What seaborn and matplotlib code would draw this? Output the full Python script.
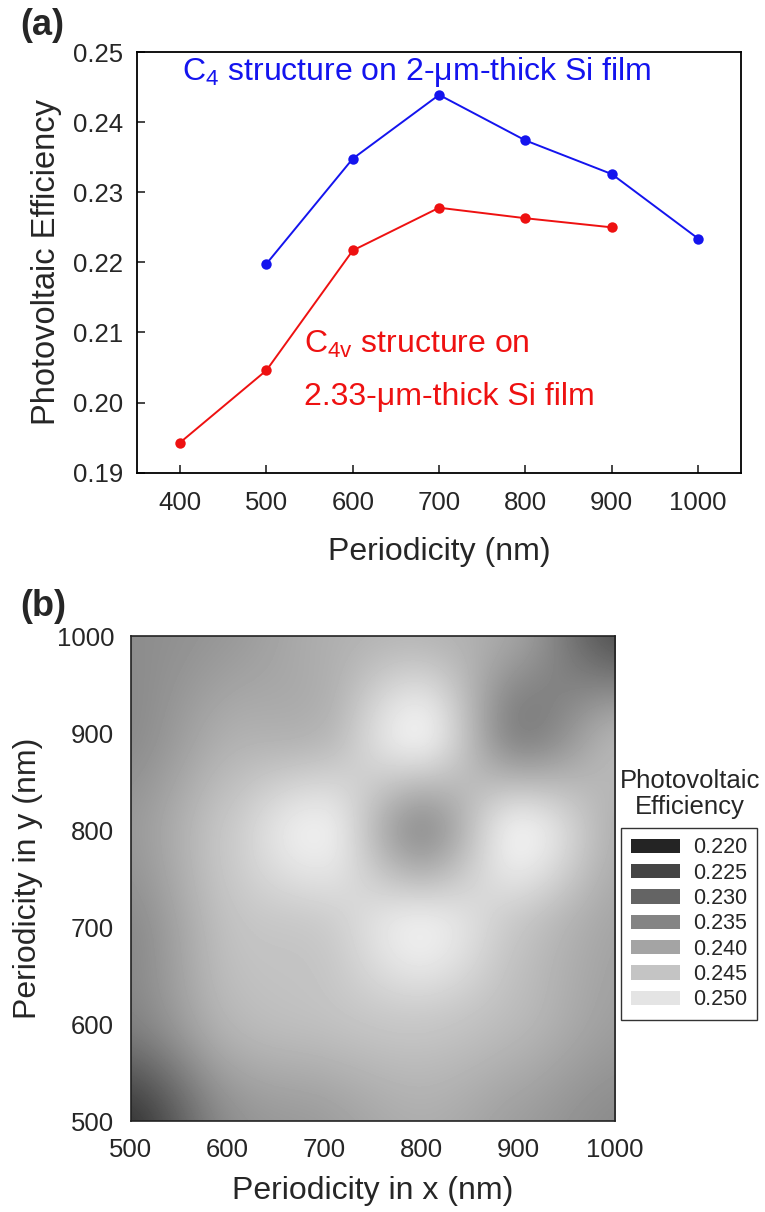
import numpy as np
import pandas as pd
import matplotlib
matplotlib.use("Agg")
import matplotlib.pyplot as plt
from matplotlib.patches import Patch
from matplotlib.colors import Normalize
import seaborn as sns

# ---- panel (a): efficiency vs periodicity ----
period_c4 = [500, 600, 700, 800, 900, 1000]
eff_c4 = [0.2198, 0.2348, 0.2439, 0.2374, 0.2326, 0.2234]
period_c4v = [400, 500, 600, 700, 800, 900]
eff_c4v = [0.1943, 0.2046, 0.2217, 0.2278, 0.2263, 0.2250]

# ---- panel (b): efficiency map over (Px, Py) ----
px_values = [500, 600, 700, 800, 900, 1000]
py_values = [500, 600, 700, 800, 900, 1000]
# rows: Py = 500 ... 1000, columns: Px = 500 ... 1000
eff_map = [
    [0.2235, 0.2363, 0.2391, 0.2415, 0.2391, 0.2363],
    [0.2343, 0.2423, 0.2443, 0.2455, 0.2431, 0.2391],
    [0.2363, 0.2443, 0.2463, 0.2510, 0.2455, 0.2403],
    [0.2383, 0.2455, 0.2510, 0.2382, 0.2510, 0.2423],
    [0.2363, 0.2415, 0.2431, 0.2510, 0.2355, 0.2415],
    [0.2363, 0.2383, 0.2415, 0.2431, 0.2391, 0.2280],
]
legend_levels = [0.220, 0.225, 0.230, 0.235, 0.240, 0.245, 0.250]

sns.set_style("ticks")
plt.rcParams["font.family"] = ["Liberation Sans", "DejaVu Sans"]
plt.rcParams["mathtext.fontset"] = "custom"
plt.rcParams["mathtext.rm"] = "Liberation Sans"
plt.rcParams["mathtext.it"] = "Liberation Sans"

fig = plt.figure(figsize=(7.65, 12.12), dpi=100)
ax1 = fig.add_axes([0.179, 0.610, 0.790, 0.347])
ax2 = fig.add_axes([0.171, 0.075, 0.633, 0.400])

blue = "#1414ee"
red = "#ee1111"
df_c4 = pd.DataFrame({"Periodicity": period_c4, "Efficiency": eff_c4})
df_c4v = pd.DataFrame({"Periodicity": period_c4v, "Efficiency": eff_c4v})
sns.lineplot(data=df_c4, x="Periodicity", y="Efficiency", ax=ax1, color=blue,
             marker="o", markersize=7.5, markeredgewidth=0, linewidth=1.4)
sns.lineplot(data=df_c4v, x="Periodicity", y="Efficiency", ax=ax1, color=red,
             marker="o", markersize=7.5, markeredgewidth=0, linewidth=1.4)

ax1.set_xlim(350, 1050)
ax1.set_ylim(0.19, 0.25)
ax1.set_xticks(range(400, 1001, 100))
yt = np.arange(0.19, 0.2501, 0.01)
ax1.set_yticks(yt)
ax1.set_yticklabels([f"{v:.2f}" for v in yt])
ax1.tick_params(axis="x", direction="in", length=6, width=1.2, labelsize=18.5, pad=13)
ax1.tick_params(axis="y", direction="in", length=6, width=1.2, labelsize=18.5, pad=10)
ax1.set_xlabel("Periodicity (nm)", fontsize=23, labelpad=16)
ax1.set_ylabel("Photovoltaic Efficiency", fontsize=23.5, labelpad=8)
for s in ax1.spines.values():
    s.set_linewidth(1.3)
    s.set_color("black")

ax1.text(402, 0.2472, "C$_4$ structure on 2-μm-thick Si film", color=blue,
         fontsize=23, va="center", ha="left")
ax1.text(544, 0.2083, "C$_{4v}$ structure on", color=red,
         fontsize=23, va="center", ha="left")
ax1.text(544, 0.2008, "2.33-μm-thick Si film", color=red,
         fontsize=23, va="center", ha="left")

# gray scale: 0.220 -> dark, 0.250 -> light
norm = Normalize(vmin=0.2143, vmax=0.2543)
cmap = plt.get_cmap("gray")
arr = np.array(eff_map)
dx = (px_values[1] - px_values[0]) / 2
dy = (py_values[1] - py_values[0]) / 2
ax2.imshow(arr, origin="lower", cmap=cmap, norm=norm, interpolation="catrom",
           extent=[px_values[0] - dx, px_values[-1] + dx, py_values[0] - dy, py_values[-1] + dy],
           aspect="auto")
ax2.set_xlim(500, 1000)
ax2.set_ylim(500, 1000)
ax2.set_xticks(range(500, 1001, 100))
ax2.set_yticks(range(500, 1001, 100))
ax2.tick_params(length=0, labelsize=18.5, pad=12)
ax2.set_xlabel("Periodicity in x (nm)", fontsize=23, labelpad=10)
ax2.set_ylabel("Periodicity in y (nm)", fontsize=23, labelpad=10)
for s in ax2.spines.values():
    s.set_linewidth(1.2)
    s.set_color("#222222")

handles = [Patch(facecolor=cmap(norm(v)), edgecolor="none", label=f"{v:.3f}") for v in legend_levels]
leg = fig.legend(handles=handles, loc="upper left", bbox_to_anchor=(0.812, 0.317),
                 bbox_transform=fig.transFigure, borderaxespad=0,
                 fontsize=15.5, frameon=True, fancybox=False, edgecolor="black",
                 handlelength=2.3, handleheight=0.65, labelspacing=0.2,
                 handletextpad=0.6, borderpad=0.45)
leg.get_frame().set_linewidth(1.0)
fig.text(0.902, 0.345, "Photovoltaic\nEfficiency", ha="center", va="center",
         fontsize=18.5, linespacing=1.1)

fig.text(0.026, 0.979, "(a)", fontsize=26, fontweight="bold", va="center")
fig.text(0.026, 0.500, "(b)", fontsize=26, fontweight="bold", va="center")

fig.savefig("out.png", dpi=100)
